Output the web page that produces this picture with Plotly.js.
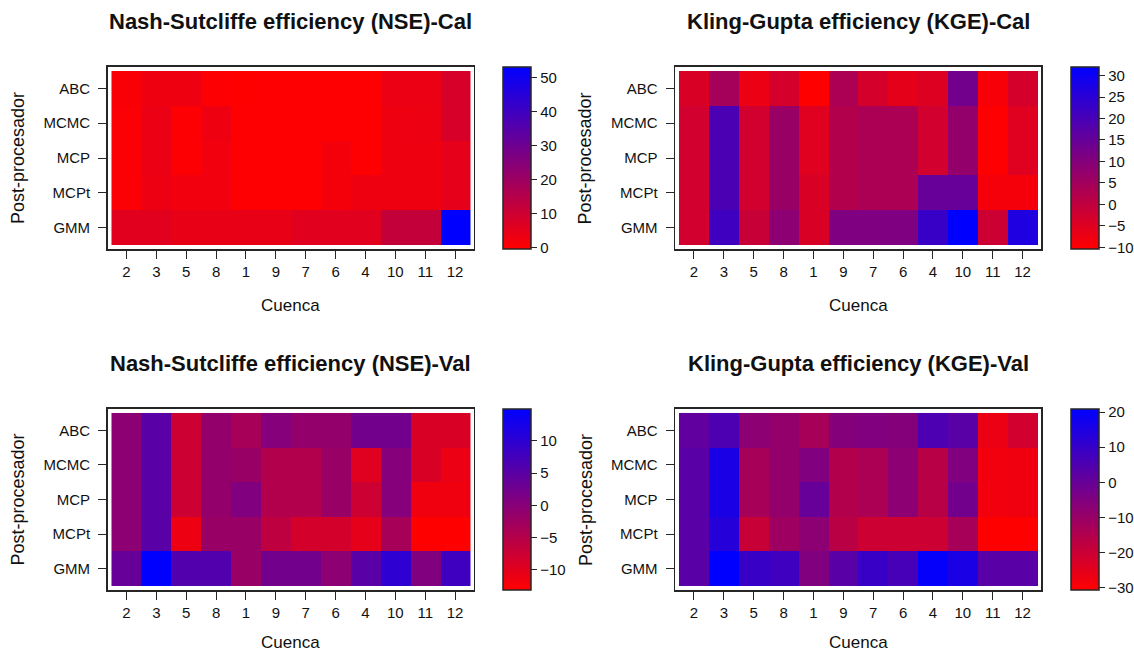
<!DOCTYPE html>
<html>
<head>
<meta charset="utf-8">
<script src="https://cdn.plot.ly/plotly-3.0.1.min.js"></script>
<style>
  html, body { margin: 0; padding: 0; background: #fff; }
  #chart { width: 1134px; height: 654px; }
</style>
</head>
<body>
<div id="chart"></div>
<script>
// Catchments (x order) and post-processors (rows, top to bottom)
const cuencas = ['2', '3', '5', '8', '1', '9', '7', '6', '4', '10', '11', '12'];
const postprocesadores = ['ABC', 'MCMC', 'MCP', 'MCPt', 'GMM'];

// Nash-Sutcliffe efficiency, calibration (one row per post-processor)
const nseCalABC  = [1.0, 3.0, 3.0, 0.3, -0.3, 0.0, 0.0, 0.0, 0.0, 4.0, 4.0, 8.0];
const nseCalMCMC = [0.5, 4.0, 0.3, 3.0, 0.0, 0.0, 0.0, 0.0, 0.0, 3.0, 3.5, 8.0];
const nseCalMCP  = [0.5, 4.0, 0.3, 2.5, 0.0, 0.0, 0.0, 2.0, 0.0, 3.0, 3.0, 5.0];
const nseCalMCPt = [0.5, 3.5, 2.5, 2.5, 0.0, 0.0, 0.0, 2.0, 3.0, 3.0, 3.0, 5.0];
const nseCalGMM  = [6.0, 6.0, 4.5, 4.5, 4.5, 4.5, 6.0, 6.0, 6.0, 12.0, 12.0, 53.2];

// Kling-Gupta efficiency, calibration
const kgeCalABC  = [-4.0, 4.5, -7.0, -3.2, -10.4, 3.6, -3.2, -6.0, -4.9, 13.0, -9.0, -3.2];
const kgeCalMCMC = [-2.8, 19.3, -2.8, 6.6, -5.3, 2.3, 3.6, 3.6, -2.8, 7.4, -10.2, -5.3];
const kgeCalMCP  = [-2.8, 19.3, -2.8, 6.6, -5.3, 2.3, 3.6, 3.6, -2.8, 7.4, -10.2, -5.3];
const kgeCalMCPt = [-2.8, 19.3, -2.8, 6.6, -4.0, 2.3, 3.6, 3.6, 15.0, 15.0, -8.7, -8.7];
const kgeCalGMM  = [-2.8, 21.4, -1.1, 8.7, -4.0, 10.8, 10.8, 10.8, 22.7, 32.0, -2.0, 27.0];

// Nash-Sutcliffe efficiency, validation
const nseValABC  = [-0.5, 5.1, -7.5, -1.3, -3.3, 0.3, -1.3, -1.3, 2.3, 2.3, -8.9, -8.9];
const nseValMCMC = [-0.5, 5.1, -7.5, -1.3, -1.9, -4.7, -4.7, -1.9, -9.7, 0.3, -8.9, -10.9];
const nseValMCP  = [-0.5, 5.1, -7.5, -1.3, 0.9, -4.7, -4.7, -1.9, -7.5, 0.3, -11.4, -11.4];
const nseValMCPt = [-0.5, 5.1, -11.1, -1.9, -1.9, -6.1, -8.3, -8.3, -10.3, -3.3, -13.1, -13.1];
const nseValGMM  = [3.7, 14.9, 5.9, 5.9, -1.9, 2.3, 2.3, -0.5, 5.1, 9.9, 0.9, 7.9];

// Kling-Gupta efficiency, validation
const kgeValABC  = [1.3, 5.4, -7.5, -9.0, -12.6, -5.9, -4.9, -5.9, 5.4, 2.8, -26.6, -21.4];
const kgeValMCMC = [2.8, 15.7, -12.6, -9.0, -4.9, -15.2, -13.7, -7.5, -16.3, -4.9, -28.1, -27.6];
const kgeValMCP  = [2.8, 15.7, -12.6, -9.0, 0.3, -15.2, -13.7, -7.5, -16.3, -2.3, -28.1, -27.6];
const kgeValMCPt = [2.8, 13.2, -19.3, -11.1, -7.5, -16.8, -20.4, -20.4, -20.4, -12.6, -30.7, -30.7];
const kgeValGMM  = [2.8, 20.9, 9.5, 8.0, -4.9, 2.8, 9.5, 6.5, 19.9, 15.7, 2.8, 2.8];

// Panel titles and colour-bar tick steps
const titulos = [
  'Nash-Sutcliffe efficiency (NSE)-Cal',
  'Kling-Gupta efficiency (KGE)-Cal',
  'Nash-Sutcliffe efficiency (NSE)-Val',
  'Kling-Gupta efficiency (KGE)-Val'
];
const cbTick0 = [0, -10, -10, -30];
const cbDtick = [10, 5, 5, 10];

const matrices = [
  [nseCalABC, nseCalMCMC, nseCalMCP, nseCalMCPt, nseCalGMM],
  [kgeCalABC, kgeCalMCMC, kgeCalMCP, kgeCalMCPt, kgeCalGMM],
  [nseValABC, nseValMCMC, nseValMCP, nseValMCPt, nseValGMM],
  [kgeValABC, kgeValMCMC, kgeValMCP, kgeValMCPt, kgeValGMM]
];

const W = 1134, H = 654;
const px = v => v / W;
const py = v => 1 - v / H;

// Frame boxes (pixels) for each panel: left, right, top, bottom, colour-bar left
const boxes = [
  {l: 108, r: 474, t: 67,  b: 249, cb: 503},
  {l: 676, r: 1042, t: 67, b: 249, cb: 1071},
  {l: 108, r: 474, t: 409, b: 590, cb: 503},
  {l: 676, r: 1042, t: 409, b: 590, cb: 1071}
];

const FONT = 'Liberation Sans, Arial, Helvetica, sans-serif';
const FRAME = '#262626';
const redBlue = [[0, 'rgb(255,0,0)'], [1, 'rgb(0,0,255)']];

const traces = [];
const layout = {
  width: W, height: H,
  margin: {l: 0, r: 0, t: 0, b: 0},
  paper_bgcolor: '#fff', plot_bgcolor: '#fff',
  font: {family: FONT, color: '#111', size: 15},
  showlegend: false,
  annotations: []
};

const padX = 0.12, padY = 0.115;

matrices.forEach((m, i) => {
  const k = i === 0 ? '' : String(i + 1);
  const bx = boxes[i];
  const flat = [].concat(...m);
  const zmin = Math.min(...flat), zmax = Math.max(...flat);

  traces.push({
    type: 'heatmap',
    x: cuencas, y: postprocesadores, z: m,
    xaxis: 'x' + k, yaxis: 'y' + k,
    colorscale: redBlue, zmin: zmin, zmax: zmax,
    xgap: 0, ygap: 0,
    colorbar: {
      x: px(bx.cb), xanchor: 'left', xref: 'paper',
      y: py((bx.t + bx.b) / 2), yanchor: 'middle',
      len: (bx.b - bx.t) / H, lenmode: 'fraction',
      thickness: 28, thicknessmode: 'pixels',
      xpad: 0, ypad: 0,
      outlinewidth: 1.5, outlinecolor: FRAME,
      ticks: 'outside', ticklen: 6, tickcolor: FRAME, tickwidth: 1,
      tickmode: 'linear', tick0: cbTick0[i], dtick: cbDtick[i],
      tickfont: {family: FONT, size: 15, color: '#111'}
    }
  });

  layout['xaxis' + k] = {
    domain: [px(bx.l), px(bx.r)],
    anchor: 'y' + k,
    type: 'category',
    range: [-0.5 - padX, cuencas.length - 0.5 + padX],
    showgrid: false, zeroline: false,
    showline: true, mirror: true, linecolor: FRAME, linewidth: 1.8,
    ticks: 'outside', ticklen: 8, tickwidth: 1, tickcolor: FRAME,
    tickfont: {family: FONT, size: 15, color: '#111'},
    fixedrange: true
  };
  layout['yaxis' + k] = {
    domain: [py(bx.b), py(bx.t)],
    anchor: 'x' + k,
    type: 'category',
    range: [postprocesadores.length - 0.5 + padY, -0.5 - padY],
    showgrid: false, zeroline: false,
    showline: true, mirror: true, linecolor: FRAME, linewidth: 1.8,
    ticks: 'outside', ticklen: 8, tickwidth: 1, tickcolor: FRAME,
    ticklabelstandoff: 5,
    tickfont: {family: FONT, size: 15, color: '#111'},
    fixedrange: true
  };

  const cx = (bx.l + bx.r) / 2;
  // panel title
  layout.annotations.push({
    text: '<b>' + titulos[i] + '</b>', xref: 'paper', yref: 'paper',
    x: px(cx), y: py(bx.t - 46), xanchor: 'center', yanchor: 'middle',
    showarrow: false, font: {family: FONT, size: 22, color: '#111'}
  });
  // x-axis title
  layout.annotations.push({
    text: 'Cuenca', xref: 'paper', yref: 'paper',
    x: px(cx), y: py(Math.min(bx.b + 56, H - 12)), xanchor: 'center', yanchor: 'middle',
    showarrow: false, font: {family: FONT, size: 17, color: '#111'}
  });
  // y-axis title
  layout.annotations.push({
    text: 'Post-procesador', xref: 'paper', yref: 'paper',
    x: px(bx.l - 90), y: py((bx.t + bx.b) / 2), xanchor: 'center', yanchor: 'middle',
    textangle: -90,
    showarrow: false, font: {family: FONT, size: 18, color: '#111'}
  });
});

Plotly.newPlot('chart', traces, layout, {displayModeBar: false, staticPlot: true});
</script>
</body>
</html>
